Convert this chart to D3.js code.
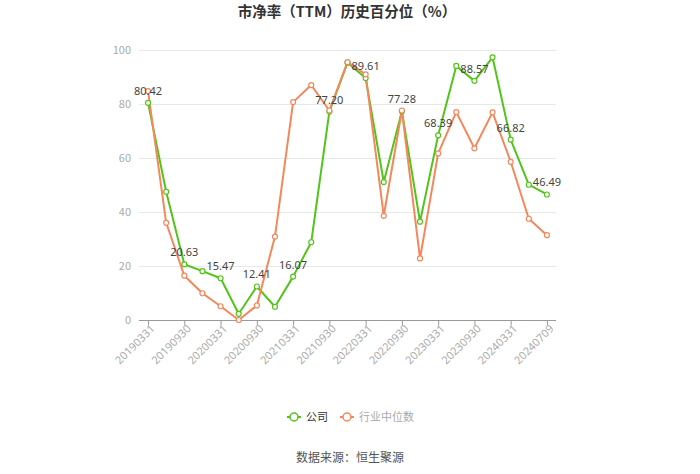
<!DOCTYPE html>
<meta charset="utf-8">
<style>
  body { margin: 0; background: #fff; }
  svg { font-family: "Noto Sans CJK SC", "Noto Sans", sans-serif; }
</style>
<svg width="700" height="474"></svg>
<script src="https://d3js.org/d3.v7.min.js"></script>
<script>
// quarter-end dates, last one is the latest day
var dates = ["20190331", "20190630", "20190930", "20191231", "20200331", "20200630",
  "20200930", "20201231", "20210331", "20210630", "20210930", "20211231",
  "20220331", "20220630", "20220930", "20221231", "20230331", "20230630",
  "20230930", "20231231", "20240331", "20240630", "20240709"]

var company = [80.42, 47.5, 20.63, 18.1, 15.47, 2.3, 12.41, 4.9, 16.07, 28.8, 77.20, 95.3,
  89.61, 51.1, 77.28, 36.4, 68.39, 94.1, 88.57, 97.3, 66.82, 50.1, 46.49]

var industry = [84.8, 36.0, 16.4, 9.9, 5.1, 0, 5.4, 30.9, 80.7, 87.0, 77.6, 95.5,
  91.0, 38.6, 77.6, 22.8, 61.7, 77.0, 63.6, 76.9, 58.6, 37.5, 31.4]

var yTicks = [0, 20, 40, 60, 80, 100]

var green = '#52c41a'
var orange = '#f4875c'

var svg = d3.select('svg')

var x = d3.scalePoint().domain(dates).range([139, 556]).padding(0.5)
var y = d3.scaleLinear().domain([0, 100]).range([320, 50])

// title
svg.append('text')
  .attr('x', 347).attr('y', 17)
  .attr('text-anchor', 'middle')
  .attr('font-size', 14.5).attr('font-weight', 'bold')
  .attr('fill', '#333')
  .text('市净率（TTM）历史百分位（%）')

// grid + y labels
svg.append('g').selectAll('line')
  .data(yTicks.filter(function (d) { return d > 0 }))
  .enter().append('line')
  .attr('x1', 139).attr('x2', 556)
  .attr('y1', function (d) { return y(d) + 0.5 })
  .attr('y2', function (d) { return y(d) + 0.5 })
  .attr('stroke', '#e8e8e8')

svg.append('g').selectAll('text')
  .data(yTicks)
  .enter().append('text')
  .attr('x', 131)
  .attr('y', function (d) { return y(d) + 4 })
  .attr('text-anchor', 'end')
  .attr('font-size', 11)
  .attr('fill', '#aaa')
  .text(function (d) { return d })

// x axis
var xAxis = d3.axisBottom(x)
  .tickValues(dates.filter(function (d, i) { return i % 2 === 0 }))
  .tickSize(5)
  .tickSizeOuter(0)

var gx = svg.append('g')
  .attr('transform', 'translate(0,320.5)')
  .call(xAxis)

gx.select('.domain').attr('stroke', '#999').attr('d', 'M139,0H556')
gx.selectAll('.tick line').attr('stroke', '#999')
gx.selectAll('.tick text')
  .attr('fill', '#aaa')
  .attr('font-size', 11)
  .attr('font-family', '"Noto Sans", sans-serif')
  .attr('text-anchor', 'end')
  .attr('transform', 'translate(-2,0) rotate(-45)')
  .attr('dy', '0.6em')
  .attr('y', 6)
  .attr('x', 0)

// lines
var line = d3.line()
  .x(function (d, i) { return x(dates[i]) })
  .y(function (d) { return y(d) })

function drawSeries(values, color) {
  svg.append('path')
    .datum(values)
    .attr('d', line)
    .attr('fill', 'none')
    .attr('stroke', color)
    .attr('stroke-width', 2)
    .attr('stroke-linejoin', 'round')
}

drawSeries(company, green)
drawSeries(industry, orange)

function drawMarkers(values, color) {
  svg.append('g').selectAll('circle')
    .data(values)
    .enter().append('circle')
    .attr('cx', function (d, i) { return x(dates[i]) })
    .attr('cy', function (d) { return y(d) })
    .attr('r', 2.5)
    .attr('fill', '#fff')
    .attr('stroke', color)
    .attr('stroke-width', 1.2)
}

drawMarkers(company, green)
drawMarkers(industry, orange)

// value labels on every other company point
svg.append('g').selectAll('text')
  .data(company.map(function (v, i) { return { v: v, i: i } }).filter(function (d) { return d.i % 2 === 0 }))
  .enter().append('text')
  .attr('x', function (d) { return x(dates[d.i]) })
  .attr('y', function (d) { return y(d.v) - 8 })
  .attr('text-anchor', 'middle')
  .attr('font-size', 11)
  .attr('font-family', '"Noto Sans", sans-serif')
  .attr('fill', '#444')
  .text(function (d) { return d.v.toFixed(2) })

// legend
var legendItems = [{ name: '公司', color: green, x: 287 }, { name: '行业中位数', color: orange, x: 340 }]
var lg = svg.append('g').selectAll('g')
  .data(legendItems)
  .enter().append('g')
  .attr('transform', function (d) { return 'translate(' + d.x + ',417)' })

lg.append('line')
  .attr('x1', 0).attr('x2', 14)
  .attr('stroke', function (d) { return d.color })
  .attr('stroke-width', 2)
lg.append('circle')
  .attr('cx', 7).attr('r', 4)
  .attr('fill', '#fff')
  .attr('stroke', function (d) { return d.color })
  .attr('stroke-width', 1.5)
lg.append('text')
  .attr('x', 19).attr('y', 4)
  .attr('font-size', 11)
  .attr('fill', function (d, i) { return i === 0 ? '#333' : '#aaa' })
  .text(function (d) { return d.name })

// source
svg.append('text')
  .attr('x', 350).attr('y', 462)
  .attr('text-anchor', 'middle')
  .attr('font-size', 12)
  .attr('fill', '#555')
  .text('数据来源：恒生聚源')
</script>
